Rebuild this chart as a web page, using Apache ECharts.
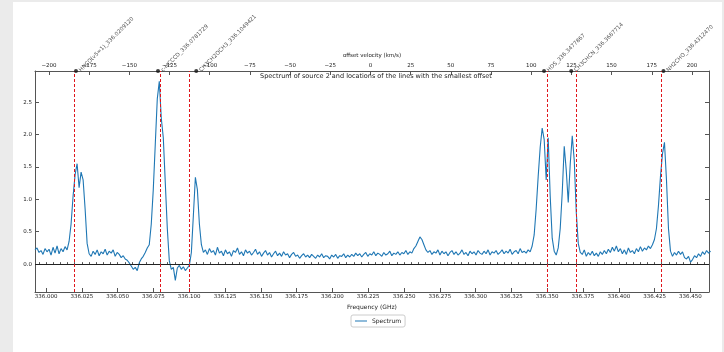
<!DOCTYPE html>
<html>
<head>
<meta charset="utf-8">
<script src="https://cdn.jsdelivr.net/npm/echarts@6/dist/echarts.min.js"></script>
<style>
  html, body { margin: 0; padding: 0; background: #ebebeb; }
  #chart { position: absolute; left: 13px; top: 2px; width: 709px; height: 350px; background: #fff; }
</style>
</head>
<body>
<div id="chart"></div>
<script>
// spectrum channels (GHz) and flux
const chanStart = 335.9923;
const chanWidth = 0.0014;
const flux = [
  0.22, 0.25, 0.18, 0.21, 0.15, 0.24, 0.19, 0.23, 0.14, 0.26,
  0.17, 0.28, 0.16, 0.24, 0.19, 0.27, 0.22, 0.35, 0.62, 1.05,
  1.38, 1.55, 1.18, 1.42, 1.30, 0.85, 0.32, 0.16, 0.12, 0.20,
  0.15, 0.22, 0.13, 0.19, 0.16, 0.23, 0.14, 0.20, 0.17, 0.22,
  0.12, 0.18, 0.15, 0.10, 0.13, 0.08, 0.06, 0.02, -0.03, -0.08,
  -0.05, -0.10, 0.02, 0.08, 0.12, 0.18, 0.25, 0.30, 0.62, 1.15,
  1.85, 2.55, 2.82, 2.25, 1.95, 1.25, 0.55, 0.05, -0.08, -0.05,
  -0.25, -0.06, -0.02, -0.08, -0.04, -0.10, -0.06, -0.02, 0.18, 0.75,
  1.34, 1.15, 0.62, 0.30, 0.18, 0.22, 0.15, 0.24, 0.18, 0.21,
  0.14, 0.26, 0.17, 0.20, 0.13, 0.22, 0.16, 0.19, 0.12, 0.21,
  0.18, 0.25, 0.15, 0.19, 0.13, 0.22, 0.17, 0.20, 0.14, 0.18,
  0.23, 0.15, 0.19, 0.12, 0.17, 0.21, 0.14, 0.18, 0.11, 0.16,
  0.20, 0.13, 0.17, 0.12, 0.19, 0.14, 0.16, 0.10, 0.15, 0.18,
  0.12, 0.14, 0.09, 0.13, 0.16, 0.11, 0.14, 0.10, 0.15, 0.12,
  0.09, 0.14, 0.11, 0.16, 0.10, 0.13, 0.12, 0.08, 0.14, 0.11,
  0.15, 0.09, 0.13, 0.12, 0.16, 0.10, 0.14, 0.11, 0.15, 0.12,
  0.17, 0.13, 0.16, 0.11, 0.15, 0.18, 0.12, 0.16, 0.14, 0.19,
  0.13, 0.17, 0.15, 0.12, 0.18, 0.14, 0.16, 0.20, 0.13, 0.17,
  0.15, 0.19, 0.14, 0.18, 0.16, 0.21, 0.15, 0.19, 0.17, 0.24,
  0.28, 0.35, 0.42, 0.38, 0.30, 0.22, 0.18, 0.21, 0.15, 0.19,
  0.17, 0.22, 0.14, 0.20, 0.16, 0.19, 0.13, 0.18, 0.21, 0.15,
  0.19, 0.14, 0.17, 0.22, 0.15, 0.18, 0.13, 0.20, 0.16, 0.19,
  0.14, 0.21, 0.17, 0.15, 0.20, 0.16, 0.22, 0.14, 0.19, 0.17,
  0.21, 0.15, 0.18, 0.22, 0.16, 0.20, 0.17, 0.23, 0.15, 0.19,
  0.21, 0.16, 0.24, 0.18, 0.20, 0.17, 0.22, 0.19, 0.28, 0.45,
  0.85, 1.35, 1.80, 2.10, 1.92, 1.30, 1.95, 1.05, 0.40, 0.20,
  0.14, 0.25, 0.55, 1.10, 1.82, 1.45, 0.95, 1.55, 1.98, 1.60,
  0.80, 0.32, 0.18, 0.15, 0.22, 0.12, 0.18, 0.14, 0.20, 0.13,
  0.17, 0.12, 0.19, 0.15, 0.21, 0.16, 0.23, 0.18, 0.26, 0.20,
  0.28, 0.19, 0.24, 0.16, 0.22, 0.15, 0.25, 0.18, 0.21, 0.16,
  0.24, 0.19, 0.27, 0.20, 0.25, 0.22, 0.28, 0.24, 0.30, 0.38,
  0.55, 0.90, 1.35, 1.70, 1.88, 1.30, 0.55, 0.20, 0.12, 0.18,
  0.14, 0.20, 0.15, 0.19, 0.10, 0.08, 0.12, 0.03, 0.07, 0.13,
  0.10, 0.16, 0.12, 0.19, 0.15, 0.21, 0.17, 0.20
];

// lines with the smallest offset
const lineNames = [
  'HNCO(v5=1)_336.0209120',
  'c-HCCCD_336.0781729',
  'CH3CH2OCH3_336.1049421',
  'HDS_336.3477867',
  'CH3CHCN_336.3667714',
  'NH2CHO_336.4312470'
];
const lineFreqs = [336.0209, 336.0782, 336.1049, 336.3478, 336.3668, 336.4312];

// tick labels
const freqTicks = [336.000, 336.025, 336.050, 336.075, 336.100, 336.125, 336.150, 336.175, 336.200,
  336.225, 336.250, 336.275, 336.300, 336.325, 336.350, 336.375, 336.400, 336.425, 336.450];
const freqMinorTicks = [];
for (let k = -1; k <= 92; k++) freqMinorTicks.push(+(336 + k * 0.005).toFixed(3));
const velTicks = [-200, -175, -150, -125, -100, -75, -50, -25, 0, 25, 50, 75, 100, 125, 150, 175, 200];
const fluxTicks = [0.0, 0.5, 1.0, 1.5, 2.0, 2.5];

const freqMin = 335.9923, freqMax = 336.4630;
const velMin = -208.7, velMax = 210.6;
const fluxMin = -0.43, fluxMax = 2.98;

const spectrum = flux.map((v, i) => [chanStart + i * chanWidth, v]);

const font = 'DejaVu Sans';
const txt = '#222';
const axisCol = '#555';

const chart = echarts.init(document.getElementById('chart'));

chart.setOption({
  animation: false,
  backgroundColor: '#fff',
  textStyle: { fontFamily: font },
  title: {
    text: 'Spectrum of source 2 and locations of the lines with the smallest offset',
    left: 358,
    top: 66,
    textAlign: 'center',
    textStyle: { fontSize: 6.5, fontWeight: 'normal', color: txt, fontFamily: font }
  },
  legend: {
    left: 338,
    top: 313,
    padding: [3, 4],
    borderColor: '#ccc',
    borderWidth: 1,
    borderRadius: 2,
    itemWidth: 12,
    itemHeight: 1,
    icon: 'rect',
    textStyle: { fontSize: 6, color: txt, fontFamily: font },
    data: ['Spectrum']
  },
  grid: { left: 22, top: 69, width: 674, height: 221, outerBoundsMode: 'none', containLabel: false },
  xAxis: [{
    type: 'value',
    position: 'bottom',
    min: freqMin,
    max: freqMax,
    name: 'Frequency (GHz)',
    nameLocation: 'middle',
    nameGap: 9,
    nameTextStyle: { fontSize: 6, color: txt },
    axisLine: { onZero: false, lineStyle: { color: axisCol, width: 1 } },
    axisTick: { inside: true, length: 4, customValues: freqTicks, lineStyle: { color: axisCol } },
    axisLabel: {
      customValues: freqTicks, fontSize: 5.5, color: txt, margin: 2,
      formatter: v => v.toFixed(3)
    },
    splitLine: { show: false }
  }, {
    type: 'value',
    position: 'bottom',
    min: freqMin,
    max: freqMax,
    axisLine: { show: false },
    axisTick: { inside: true, length: 2, customValues: freqMinorTicks, lineStyle: { color: axisCol } },
    axisLabel: { show: false },
    splitLine: { show: false }
  }, {
    type: 'value',
    position: 'top',
    min: velMin,
    max: velMax,
    name: 'offset velocity (km/s)',
    nameLocation: 'middle',
    nameGap: 10,
    nameTextStyle: { fontSize: 5.5, color: txt },
    axisLine: { onZero: false, lineStyle: { color: axisCol, width: 1 } },
    axisTick: { inside: true, length: 4, customValues: velTicks, lineStyle: { color: axisCol } },
    axisLabel: {
      customValues: velTicks, fontSize: 5.5, color: txt, margin: 2,
      formatter: v => String(v).replace('-', '\u2212')
    },
    splitLine: { show: false }
  }],
  yAxis: [{
    type: 'value',
    position: 'left',
    min: fluxMin,
    max: fluxMax,
    name: 'Flux',
    nameLocation: 'middle',
    nameGap: 14,
    nameTextStyle: { fontSize: 5.5, color: txt },
    axisLine: { show: true, onZero: false, lineStyle: { color: axisCol, width: 1 } },
    axisTick: { show: true, inside: true, length: 4, customValues: fluxTicks, lineStyle: { color: axisCol } },
    axisLabel: { customValues: fluxTicks, fontSize: 5.5, color: txt, margin: 3, formatter: v => v.toFixed(1) },
    splitLine: { show: false }
  }, {
    type: 'value',
    position: 'right',
    min: fluxMin,
    max: fluxMax,
    axisLine: { show: true, onZero: false, lineStyle: { color: axisCol, width: 1 } },
    axisTick: { show: true, inside: true, length: 4, customValues: fluxTicks, lineStyle: { color: axisCol } },
    axisLabel: { show: false },
    splitLine: { show: false }
  }],
  series: [{
    name: 'Spectrum',
    type: 'line',
    xAxisIndex: 0,
    yAxisIndex: 0,
    data: spectrum,
    symbol: 'none',
    lineStyle: { color: '#1f77b4', width: 1.1 },
    itemStyle: { color: '#1f77b4' },
    z: 3,
    markLine: {
      silent: true,
      symbol: 'none',
      label: { show: false },
      data: [
        { yAxis: 0, lineStyle: { color: '#222', width: 1, type: 'solid' } },
        ...lineFreqs.map(f => ({ xAxis: f, lineStyle: { color: '#e0161c', width: 1, type: [3, 2] } }))
      ]
    }
  }, {
    name: 'lines',
    type: 'scatter',
    xAxisIndex: 0,
    yAxisIndex: 0,
    clip: false,
    symbol: 'circle',
    symbolSize: 4,
    itemStyle: { color: '#111' },
    z: 5,
    data: lineFreqs.map((f, i) => ({ value: [f, fluxMax], name: lineNames[i] })),
    label: {
      show: true,
      position: 'right',
      distance: 2,
      rotate: 45,
      fontSize: 5.5,
      color: txt,
      formatter: p => p.name
    }
  }]
});
</script>
</body>
</html>
